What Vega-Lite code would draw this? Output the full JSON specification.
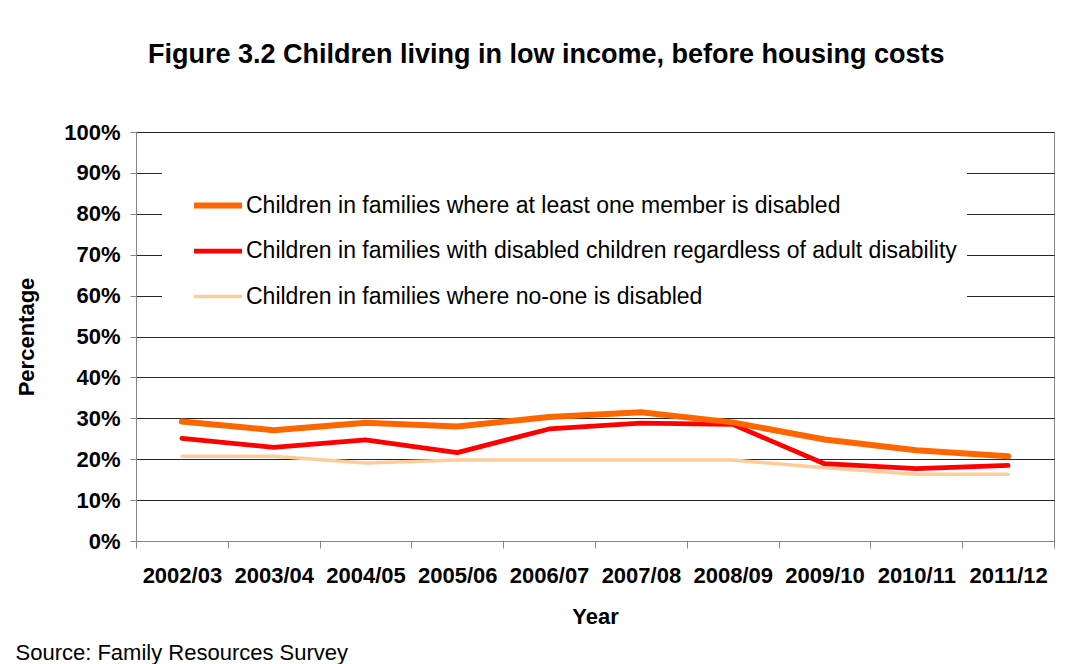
{
  "$schema": "https://vega.github.io/schema/vega-lite/v6.json",
  "width": 918,
  "height": 409,
  "autosize": {"type": "none"},
  "padding": {"left": 136, "top": 132, "right": 21, "bottom": 123},
  "background": "white",
  "title": {
    "text": "Figure 3.2 Children living in low income, before housing costs",
    "font": "Liberation Sans",
    "fontSize": 27,
    "fontWeight": "bold",
    "color": "#000000",
    "anchor": "start",
    "frame": "group",
    "dx": 12,
    "baseline": "alphabetic",
    "offset": 31
  },
  "data": {
    "values": [
      {"year": "2002/03", "series": "Children in families where no-one is disabled", "value": 20.7},
      {"year": "2003/04", "series": "Children in families where no-one is disabled", "value": 20.7},
      {"year": "2004/05", "series": "Children in families where no-one is disabled", "value": 19.1},
      {"year": "2005/06", "series": "Children in families where no-one is disabled", "value": 19.8},
      {"year": "2006/07", "series": "Children in families where no-one is disabled", "value": 19.8},
      {"year": "2007/08", "series": "Children in families where no-one is disabled", "value": 19.8},
      {"year": "2008/09", "series": "Children in families where no-one is disabled", "value": 19.8},
      {"year": "2009/10", "series": "Children in families where no-one is disabled", "value": 17.9},
      {"year": "2010/11", "series": "Children in families where no-one is disabled", "value": 16.3},
      {"year": "2011/12", "series": "Children in families where no-one is disabled", "value": 16.3},
      {"year": "2002/03", "series": "Children in families with disabled children regardless of adult disability", "value": 25.1},
      {"year": "2003/04", "series": "Children in families with disabled children regardless of adult disability", "value": 22.9},
      {"year": "2004/05", "series": "Children in families with disabled children regardless of adult disability", "value": 24.7},
      {"year": "2005/06", "series": "Children in families with disabled children regardless of adult disability", "value": 21.6},
      {"year": "2006/07", "series": "Children in families with disabled children regardless of adult disability", "value": 27.4},
      {"year": "2007/08", "series": "Children in families with disabled children regardless of adult disability", "value": 28.8},
      {"year": "2008/09", "series": "Children in families with disabled children regardless of adult disability", "value": 28.5},
      {"year": "2009/10", "series": "Children in families with disabled children regardless of adult disability", "value": 18.9},
      {"year": "2010/11", "series": "Children in families with disabled children regardless of adult disability", "value": 17.7},
      {"year": "2011/12", "series": "Children in families with disabled children regardless of adult disability", "value": 18.5},
      {"year": "2002/03", "series": "Children in families where at least one member is disabled", "value": 29.2},
      {"year": "2003/04", "series": "Children in families where at least one member is disabled", "value": 27.1},
      {"year": "2004/05", "series": "Children in families where at least one member is disabled", "value": 28.9},
      {"year": "2005/06", "series": "Children in families where at least one member is disabled", "value": 28.0},
      {"year": "2006/07", "series": "Children in families where at least one member is disabled", "value": 30.3},
      {"year": "2007/08", "series": "Children in families where at least one member is disabled", "value": 31.5},
      {"year": "2008/09", "series": "Children in families where at least one member is disabled", "value": 29.0},
      {"year": "2009/10", "series": "Children in families where at least one member is disabled", "value": 24.8},
      {"year": "2010/11", "series": "Children in families where at least one member is disabled", "value": 22.2},
      {"year": "2011/12", "series": "Children in families where at least one member is disabled", "value": 20.7}
    ]
  },
  "encoding": {
    "y": {
      "field": "value",
      "type": "quantitative",
      "scale": {"domain": [0, 100], "nice": false},
      "axis": {
        "values": [0, 10, 20, 30, 40, 50, 60, 70, 80, 90, 100],
        "labelExpr": "datum.value + '%'",
        "title": "Percentage",
        "titleFont": "Liberation Sans",
        "titleFontSize": 22,
        "titleFontWeight": "bold",
        "titleColor": "#000000",
        "titleX": -103,
        "titleY": 204.5,
        "titleAngle": -90,
        "titleAlign": "center",
        "titleBaseline": "alphabetic",
        "labelFont": "Liberation Sans",
        "labelFontSize": 22,
        "labelFontWeight": "bold",
        "labelColor": "#000000",
        "labelPadding": 10,
        "tickSize": 6,
        "tickColor": "#868686",
        "domainColor": "#868686",
        "grid": true,
        "gridColor": {"condition": {"test": "datum.value === 0", "value": "#868686"}, "value": "#262626"},
        "gridWidth": 1
      }
    },
    "color": {
      "field": "series",
      "type": "nominal",
      "scale": {
        "domain": [
          "Children in families where at least one member is disabled",
          "Children in families with disabled children regardless of adult disability",
          "Children in families where no-one is disabled"
        ],
        "range": ["#FF6600", "#FF0000", "#FFCC99"]
      },
      "legend": {
        "title": null,
        "orient": "none",
        "legendX": 26,
        "legendY": 36.5,
        "fillColor": "white",
        "padding": 10,
        "symbolType": "stroke",
        "symbolSize": 2304,
        "symbolOffset": 19,
        "labelOffset": 1,
        "labelFont": "Liberation Sans",
        "labelFontSize": 23,
        "labelColor": "#000000",
        "labelLimit": 1000,
        "rowPadding": 7
      }
    },
    "strokeWidth": {
      "field": "series",
      "type": "nominal",
      "scale": {
        "domain": [
          "Children in families where at least one member is disabled",
          "Children in families with disabled children regardless of adult disability",
          "Children in families where no-one is disabled"
        ],
        "range": [6, 3.5, 4]
      },
      "legend": {
        "title": null,
        "orient": "none",
        "legendX": 26,
        "legendY": 36.5,
        "fillColor": "white",
        "padding": 10,
        "symbolType": "stroke",
        "symbolSize": 2304,
        "symbolOffset": 19,
        "labelOffset": 1,
        "labelFont": "Liberation Sans",
        "labelFontSize": 23,
        "labelColor": "#000000",
        "labelLimit": 1000,
        "rowPadding": 7
      }
    }
  },
  "layer": [
    {
      "transform": [{"filter": "datum.series === 'Children in families where no-one is disabled'"}],
      "mark": {"type": "line", "strokeCap": "round", "strokeJoin": "round"},
      "encoding": {
        "x": {
          "field": "year",
          "type": "ordinal",
          "bandPosition": 0.5,
          "scale": {"type": "band", "paddingInner": 0, "paddingOuter": 0},
          "axis": {
            "orient": "bottom",
            "labelAngle": 0,
            "tickBand": "extent",
            "tickSize": 7,
            "tickColor": "#868686",
            "domainColor": "#868686",
            "grid": false,
            "labelFont": "Liberation Sans",
            "labelFontSize": 22,
            "labelFontWeight": "bold",
            "labelColor": "#000000",
            "labelPadding": 17,
            "title": "Year",
            "titleFont": "Liberation Sans",
            "titleFontSize": 22,
            "titleFontWeight": "bold",
            "titleColor": "#000000",
            "titleY": 82,
            "titleBaseline": "alphabetic"
          }
        }
      }
    },
    {
      "transform": [{"filter": "datum.series === 'Children in families with disabled children regardless of adult disability'"}],
      "mark": {"type": "line", "strokeCap": "round", "strokeJoin": "round"},
      "encoding": {
        "x": {
          "field": "year",
          "type": "ordinal",
          "bandPosition": 0.5,
          "scale": {"type": "band", "paddingInner": 0, "paddingOuter": 0},
          "axis": null
        }
      }
    },
    {
      "transform": [{"filter": "datum.series === 'Children in families where at least one member is disabled'"}],
      "mark": {"type": "line", "strokeCap": "round", "strokeJoin": "round"},
      "encoding": {
        "x": {
          "field": "year",
          "type": "ordinal",
          "bandPosition": 0.5,
          "scale": {"type": "band", "paddingInner": 0, "paddingOuter": 0},
          "axis": {
            "orient": "top",
            "domain": false,
            "ticks": false,
            "labels": false,
            "grid": false,
            "title": "Source: Family Resources Survey",
            "titleFont": "Liberation Sans",
            "titleFontSize": 22,
            "titleFontWeight": "normal",
            "titleColor": "#000000",
            "titleX": -121,
            "titleY": 527,
            "titleAlign": "left",
            "titleBaseline": "alphabetic"
          }
        }
      }
    }
  ],
  "resolve": {"axis": {"x": "independent"}},
  "config": {
    "view": {"stroke": "#868686"},
    "font": "Liberation Sans"
  }
}
